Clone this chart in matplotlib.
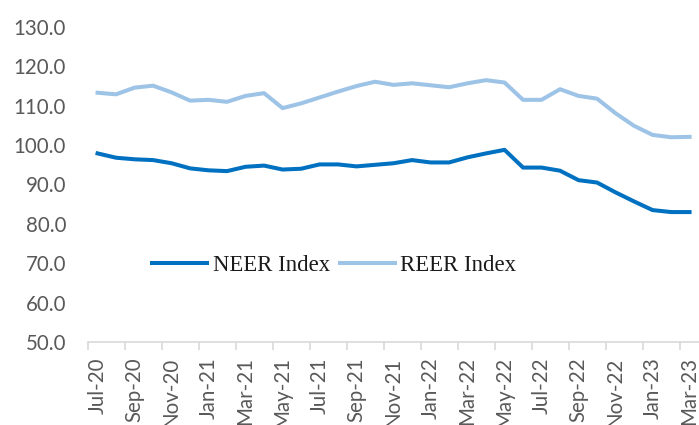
import matplotlib
matplotlib.use("Agg")
import matplotlib.pyplot as plt
import numpy as np

months = ["Jul-20", "Aug-20", "Sep-20", "Oct-20", "Nov-20", "Dec-20",
          "Jan-21", "Feb-21", "Mar-21", "Apr-21", "May-21", "Jun-21",
          "Jul-21", "Aug-21", "Sep-21", "Oct-21", "Nov-21", "Dec-21",
          "Jan-22", "Feb-22", "Mar-22", "Apr-22", "May-22", "Jun-22",
          "Jul-22", "Aug-22", "Sep-22", "Oct-22", "Nov-22", "Dec-22",
          "Jan-23", "Feb-23", "Mar-23"]

neer = [97.9, 96.8, 96.4, 96.2, 95.4, 94.1, 93.6, 93.4, 94.5, 94.8, 93.8,
        94.0, 95.1, 95.1, 94.6, 95.0, 95.4, 96.2, 95.6, 95.6, 96.9, 97.9,
        98.8, 94.3, 94.3, 93.5, 91.1, 90.5, 88.0, 85.7, 83.5, 83.0, 83.0]

reer = [113.3, 112.9, 114.6, 115.1, 113.4, 111.3, 111.5, 111.0, 112.5, 113.2,
        109.4, 110.6, 112.1, 113.6, 115.0, 116.1, 115.3, 115.7, 115.2, 114.7,
        115.7, 116.5, 115.9, 111.5, 111.5, 114.2, 112.5, 111.8, 108.1, 104.9,
        102.6, 102.0, 102.1]

yticks = [50, 60, 70, 80, 90, 100, 110, 120, 130]

fig = plt.figure(figsize=(6.99, 4.25), dpi=100)
ax = fig.add_axes([88.3 / 699, 83 / 425, 610.5 / 699, 315 / 425])

x = np.arange(len(months))
ax.plot(x, neer, color="#0070C0", lw=2.9, label="NEER Index", solid_joinstyle="round")
ax.plot(x, reer, color="#9DC3E6", lw=2.9, label="REER Index", solid_joinstyle="round")

ax.set_xlim(-0.5, len(months) - 0.5)
ax.set_ylim(50, 130)

ax.set_yticks(yticks)
ax.set_yticklabels([f"{v:.1f}" for v in yticks])
ax.tick_params(axis="y", length=0, pad=16, labelsize=14.8, labelcolor="#595959")
for lab in ax.get_yticklabels():
    lab.set_family("Lato")

# labels at category centres, tick marks at boundaries
ax.set_xticks(x[::2])
ax.set_xticklabels(months[::2], rotation=90, family="Lato")
ax.tick_params(axis="x", which="major", length=0, pad=11, labelsize=14.8,
               labelcolor="#595959")
ax.set_xticks(x[::2] - 0.5, minor=True)
ax.tick_params(axis="x", which="minor", length=5.8, width=1.2, color="#D9D9D9")

for s in ["left", "right", "top"]:
    ax.spines[s].set_visible(False)
ax.spines["bottom"].set_color("#D9D9D9")
ax.spines["bottom"].set_linewidth(1.2)

leg = ax.legend(loc="center", bbox_to_anchor=(0.403, 0.244), ncol=2, frameon=False,
                prop={"family": "Liberation Serif", "size": 16.4},
                handlelength=2.4, handletextpad=0.25, columnspacing=0.45)
for t in leg.get_texts():
    t.set_color("#1a1a1a")

fig.savefig("out.png", dpi=100)
